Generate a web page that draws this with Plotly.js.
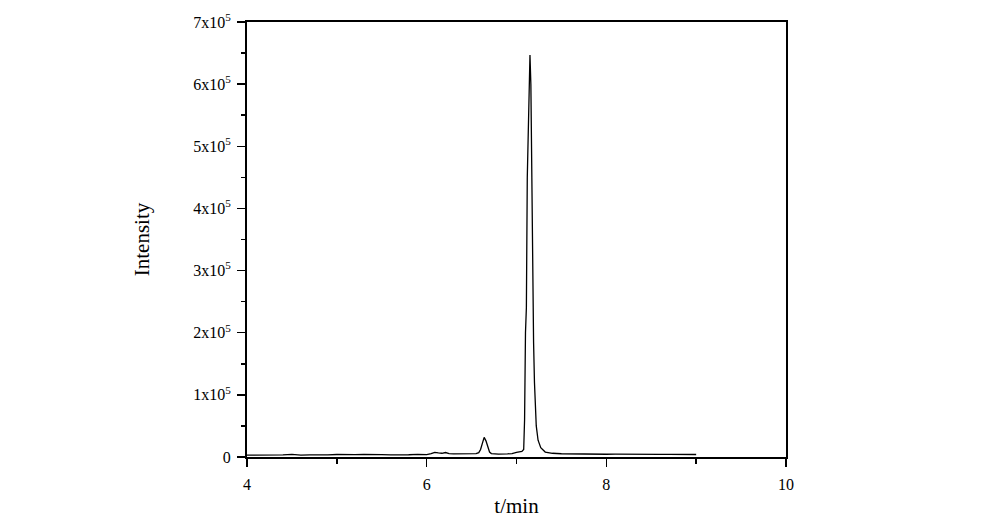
<!DOCTYPE html>
<html>
<head>
<meta charset="utf-8">
<script src="https://cdn.plot.ly/plotly-3.0.1.min.js"></script>
<style>html,body{margin:0;padding:0;background:#fff;}#chart{width:994px;height:529px;}</style>
</head>
<body>
<div id="chart"></div>
<script>
// Retention time (min)
var timeMin = [
  4.0, 4.1, 4.2, 4.3, 4.4, 4.5, 4.6, 4.7, 4.8, 4.9,
  5.0, 5.1, 5.2, 5.3, 5.4, 5.5, 5.6, 5.7, 5.8, 5.9,
  6.0, 6.05, 6.09, 6.13, 6.17, 6.21, 6.25, 6.3, 6.4, 6.5,
  6.55, 6.58, 6.6, 6.62, 6.64, 6.66, 6.68, 6.7, 6.72, 6.76,
  6.8, 6.9, 6.95, 7.0, 7.03, 7.06, 7.08, 7.09, 7.1, 7.11,
  7.12, 7.13, 7.14, 7.15, 7.16, 7.17, 7.18, 7.19, 7.2, 7.21,
  7.22, 7.24, 7.27, 7.32, 7.4, 7.5, 7.6, 7.7, 7.8, 7.9,
  8.0, 8.1, 8.2, 8.3, 8.4, 8.5, 8.6, 8.7, 8.8, 8.9, 9.0
];
// Intensity (counts)
var intensity = [
  3000, 2800, 3200, 2900, 3400, 4200, 3000, 3500, 2900, 3300,
  4000, 3500, 3800, 4200, 3400, 3800, 3300, 4000, 3600, 4100,
  3800, 5500, 7500, 6500, 6000, 7200, 5500, 5000, 4800, 5000,
  5500, 7000, 12000, 22000, 31500, 26000, 15000, 8000, 5500, 4800,
  4500, 5000, 5500, 7500, 8500, 9000, 12000, 60000, 200000, 240000,
  450000, 520000, 600000, 647000, 600000, 420000, 260000, 185000, 120000, 80000,
  50000, 27000, 15000, 8000, 6000, 5200, 4800, 4800, 4500, 4700,
  4400, 4600, 4300, 4500, 4200, 4400, 4100, 4300, 4000, 4200, 4000
];
var yTickVals = [0, 100000, 200000, 300000, 400000, 500000, 600000, 700000];
var yTickText = ['0', '1x10<sup>5</sup>', '2x10<sup>5</sup>', '3x10<sup>5</sup>', '4x10<sup>5</sup>', '5x10<sup>5</sup>', '6x10<sup>5</sup>', '7x10<sup>5</sup>'];
var xTickVals = [4, 6, 8, 10];
var xTickText = ['4', '6', '8', '10'];

var font = 'Liberation Serif, Times New Roman, serif';

var trace = {
  x: timeMin,
  y: intensity,
  type: 'scatter',
  mode: 'lines',
  line: {color: '#000', width: 1.3},
  hoverinfo: 'x+y'
};

var layout = {
  width: 994,
  height: 529,
  margin: {l: 247, r: 208, t: 22, b: 72},
  paper_bgcolor: '#fff',
  plot_bgcolor: '#fff',
  showlegend: false,
  font: {family: font, color: '#000', size: 16},
  xaxis: {
    range: [4, 10],
    tickvals: xTickVals,
    ticktext: xTickText,
    ticks: 'outside',
    ticklen: 8,
    tickwidth: 1.5,
    tickcolor: '#000',
    ticklabelstandoff: 4,
    showline: true,
    linecolor: '#000',
    linewidth: 2,
    mirror: true,
    showgrid: false,
    zeroline: false,
    tickfont: {family: font, size: 16, color: '#000'},
    minor: {tickvals: [5, 7, 9], ticks: 'outside', ticklen: 5, tickwidth: 1.5, tickcolor: '#000', showgrid: false},
    title: {text: 't/min', font: {family: font, size: 21, color: '#000'}, standoff: 6},
    automargin: true
  },
  yaxis: {
    range: [0, 700000],
    tickvals: yTickVals,
    ticktext: yTickText,
    ticks: 'outside',
    ticklen: 8,
    tickwidth: 1.5,
    tickcolor: '#000',
    ticklabelstandoff: 3,
    showline: true,
    linecolor: '#000',
    linewidth: 2,
    mirror: true,
    showgrid: false,
    zeroline: false,
    tickfont: {family: font, size: 16, color: '#000'},
    minor: {tickvals: [50000, 150000, 250000, 350000, 450000, 550000, 650000], ticks: 'outside', ticklen: 4, tickwidth: 1.5, tickcolor: '#000', showgrid: false},
    title: {text: 'Intensity', font: {family: font, size: 21, color: '#000'}, standoff: 38},
    automargin: true
  }
};

Plotly.newPlot('chart', [trace], layout, {displayModeBar: false, staticPlot: true});
</script>
</body>
</html>
